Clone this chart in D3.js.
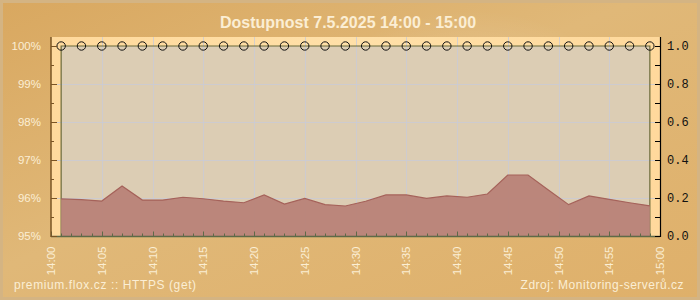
<!DOCTYPE html>
<html>
<head>
<meta charset="utf-8">
<script src="https://cdn.jsdelivr.net/npm/d3@7"></script>
<style>
    html, body { margin: 0; padding: 0; background: #dfb36c; }
    svg { display: block; font-family: "Liberation Sans", Arial, sans-serif; }
    .cream { fill: #fbeed4; }
</style>
</head>
<body>
<svg id="chart" width="700" height="300"></svg>
<script>
"use strict";

// measurement times (every 2 minutes, odd minutes)
const TIMES = ['14:01', '14:03', '14:05', '14:07', '14:09', '14:11', '14:13', '14:15', '14:17', '14:19',
    '14:21', '14:23', '14:25', '14:27', '14:29', '14:31', '14:33', '14:35', '14:37', '14:39',
    '14:41', '14:43', '14:45', '14:47', '14:49', '14:51', '14:53', '14:55', '14:57', '14:59'];

// availability in percent (left axis)
const AVAILABILITY = [100, 100, 100, 100, 100, 100, 100, 100, 100, 100,
    100, 100, 100, 100, 100, 100, 100, 100, 100, 100,
    100, 100, 100, 100, 100, 100, 100, 100, 100, 100];

// response time in seconds (right axis)
const RESPONSE = [0.195, 0.191, 0.184, 0.263, 0.189, 0.189, 0.204, 0.196, 0.184, 0.175,
    0.216, 0.168, 0.198, 0.165, 0.158, 0.183, 0.216, 0.216, 0.198, 0.211,
    0.204, 0.221, 0.321, 0.321, 0.242, 0.165, 0.211, 0.193, 0.175, 0.159];

const LEFT_TICKS = [95, 96, 97, 98, 99, 100];
const RIGHT_TICKS = [0, 0.2, 0.4, 0.6, 0.8, 1.0];

const TITLE = 'Dostupnost 7.5.2025 14:00 - 15:00';
const FOOTER_LEFT = 'premium.flox.cz :: HTTPS (get)';
const FOOTER_RIGHT = 'Zdroj: Monitoring-serverů.cz';

const parseTime = d3.timeParse('%Y-%m-%d %H:%M');
const day = '2025-05-07 ';

const svg = d3.select('#chart');
const defs = svg.append('defs');

// background
const bgGrad = defs.append('linearGradient').attr('id', 'bg').attr('x1', 0).attr('y1', 0).attr('x2', 1).attr('y2', 1);
bgGrad.append('stop').attr('offset', '0%').attr('stop-color', '#d9a860');
bgGrad.append('stop').attr('offset', '45%').attr('stop-color', '#e0b878');
bgGrad.append('stop').attr('offset', '100%').attr('stop-color', '#dfb06a');
svg.append('rect').attr('width', 700).attr('height', 300).attr('fill', '#d4b483');
svg.append('rect').attr('x', 3).attr('y', 3).attr('width', 694).attr('height', 294).attr('fill', 'url(#bg)');

// faint swirl highlights
const swirl = defs.append('radialGradient').attr('id', 'swirl');
swirl.append('stop').attr('offset', '0%').attr('stop-color', '#fff').attr('stop-opacity', 0.25);
swirl.append('stop').attr('offset', '100%').attr('stop-color', '#fff').attr('stop-opacity', 0);
svg.append('ellipse').attr('cx', 470).attr('cy', 120).attr('rx', 160).attr('ry', 110).attr('fill', 'url(#swirl)');

// scales
const x = d3.scaleTime()
    .domain([parseTime(day + '14:00'), parseTime(day + '15:00')])
    .range([51, 660]);
const yLeft = d3.scaleLinear().domain([95, 100]).range([236, 46]);
const yRight = d3.scaleLinear().domain([0, 1]).range([236, 46]);
const plotTop = 37;

const data = TIMES.map((t, i) => ({ time: parseTime(day + t), avail: AVAILABILITY[i], resp: RESPONSE[i] }));

// plot area backdrop
const plotGrad = defs.append('linearGradient').attr('id', 'plotbg').attr('x1', 0).attr('y1', 0).attr('x2', 1).attr('y2', 0);
plotGrad.append('stop').attr('offset', '0%').attr('stop-color', '#ffd99c');
plotGrad.append('stop').attr('offset', '50%').attr('stop-color', '#ffe0a8');
plotGrad.append('stop').attr('offset', '100%').attr('stop-color', '#ffd99c');
svg.append('rect')
    .attr('x', x.range()[0]).attr('y', plotTop)
    .attr('width', x.range()[1] - x.range()[0]).attr('height', 236 - plotTop)
    .attr('fill', 'url(#plotbg)');

// availability area
const availArea = d3.area().x(d => x(d.time)).y0(yLeft(95)).y1(d => yLeft(d.avail));
svg.append('path').datum(data)
    .attr('d', availArea)
    .attr('fill', '#dccdb4');

// grid
const grid = svg.append('g').attr('stroke', '#c9cbd6').attr('stroke-opacity', 0.8).attr('stroke-width', 1);
grid.selectAll('line.h').data(LEFT_TICKS.slice(1, -1)).join('line')
    .attr('x1', x.range()[0]).attr('x2', x.range()[1])
    .attr('y1', d => Math.round(yLeft(d)) + 0.5).attr('y2', d => Math.round(yLeft(d)) + 0.5);
grid.selectAll('line.v').data(x.ticks(d3.timeMinute.every(5)).slice(1, -1)).join('line')
    .attr('x1', d => Math.round(x(d)) + 0.5).attr('x2', d => Math.round(x(d)) + 0.5)
    .attr('y1', plotTop).attr('y2', 236);

// availability outline
svg.append('path').datum(data)
    .attr('d', availArea)
    .attr('fill', 'none')
    .attr('stroke', '#6b6b3b')
    .attr('stroke-width', 1.2);

// response time area
const respArea = d3.area().x(d => x(d.time)).y0(yRight(0)).y1(d => yRight(d.resp));
const respLine = d3.line().x(d => x(d.time)).y(d => yRight(d.resp));
svg.append('path').datum(data).attr('d', respArea).attr('fill', '#b98379').attr('fill-opacity', 0.96);
svg.append('path').datum(data).attr('d', respLine)
    .attr('fill', 'none').attr('stroke', '#a5625a').attr('stroke-width', 1.2);

// availability markers
svg.append('g').selectAll('circle').data(data).join('circle')
    .attr('cx', d => x(d.time)).attr('cy', d => yLeft(d.avail)).attr('r', 4.2)
    .attr('fill', 'none').attr('stroke', '#111').attr('stroke-width', 1);

// bottom axis
const xAxisGroup = svg.append('g').attr('transform', 'translate(0,236.5)');
xAxisGroup.append('line').attr('x1', 51).attr('x2', 660).attr('stroke', '#5e6a48').attr('stroke-width', 1.5);
xAxisGroup.selectAll('line.tick').data(x.ticks(d3.timeMinute.every(1))).join('line')
    .attr('x1', d => Math.round(x(d)) + 0.5).attr('x2', d => Math.round(x(d)) + 0.5)
    .attr('y1', 0).attr('y2', d => d.getMinutes() % 5 === 0 ? -5 : -3)
    .attr('stroke', '#5e6a48');
xAxisGroup.selectAll('text').data(x.ticks(d3.timeMinute.every(5))).join('text')
    .attr('class', 'cream')
    .attr('transform', d => `translate(${x(d) + 4},10) rotate(-90)`)
    .attr('text-anchor', 'end')
    .attr('font-size', 11.5)
    .text(d3.timeFormat('%H:%M'));

// left axis
const leftAxis = svg.append('g');
leftAxis.append('line').attr('x1', 51).attr('x2', 51).attr('y1', plotTop).attr('y2', 237)
    .attr('stroke', '#7a5424').attr('stroke-width', 1.5);
leftAxis.selectAll('line.tick').data(d3.range(95, 100.01, 0.5)).join('line')
    .attr('x1', 51).attr('x2', d => Number.isInteger(d) ? 57 : 54)
    .attr('y1', d => Math.round(yLeft(d)) + 0.5).attr('y2', d => Math.round(yLeft(d)) + 0.5)
    .attr('stroke', '#7a5424');
leftAxis.selectAll('text').data(LEFT_TICKS).join('text')
    .attr('class', 'cream')
    .attr('x', 41).attr('y', d => yLeft(d) + 4)
    .attr('text-anchor', 'end')
    .attr('font-size', 11.5)
    .text(d => d + '%');

// right axis
const rightAxis = svg.append('g');
rightAxis.append('line').attr('x1', 660.5).attr('x2', 660.5).attr('y1', plotTop).attr('y2', 237)
    .attr('stroke', '#000').attr('stroke-width', 1.2);
rightAxis.selectAll('line.tick').data(d3.range(0, 1.01, 0.1)).join('line')
    .attr('x1', 655).attr('x2', 660)
    .attr('y1', d => Math.round(yRight(d)) + 0.5).attr('y2', d => Math.round(yRight(d)) + 0.5)
    .attr('stroke', '#000');
rightAxis.selectAll('text').data(RIGHT_TICKS).join('text')
    .attr('x', 667).attr('y', d => yRight(d) + 4)
    .attr('font-family', '"Liberation Mono", "DejaVu Sans Mono", monospace')
    .attr('font-size', 12)
    .attr('fill', '#111')
    .text(d3.format('.1f'));

// title and footers
svg.append('text').attr('class', 'cream')
    .attr('x', 348).attr('y', 28).attr('text-anchor', 'middle')
    .attr('font-size', 16).attr('font-weight', 'bold')
    .text(TITLE);
svg.append('text').attr('class', 'cream')
    .attr('x', 14).attr('y', 289).attr('font-size', 12).attr('letter-spacing', 0.6)
    .text(FOOTER_LEFT);
svg.append('text').attr('class', 'cream')
    .attr('x', 684).attr('y', 289).attr('text-anchor', 'end').attr('font-size', 12).attr('letter-spacing', 0.5)
    .text(FOOTER_RIGHT);
</script>
</body>
</html>
